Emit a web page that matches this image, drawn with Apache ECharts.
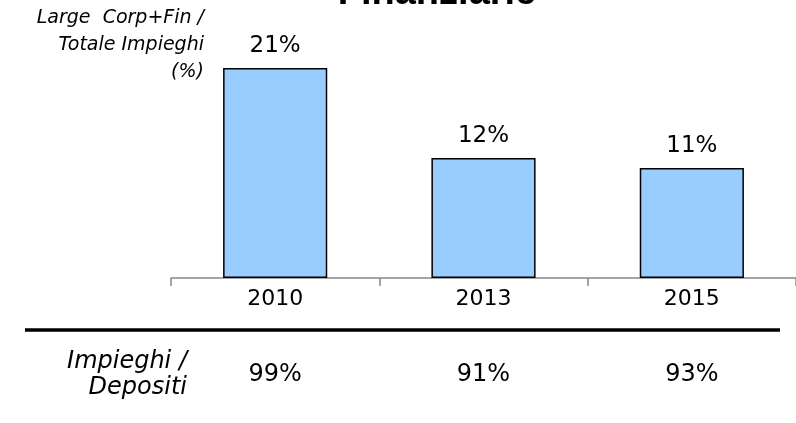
<!DOCTYPE html>
<html><head><meta charset="utf-8">
<script src="https://cdn.jsdelivr.net/npm/echarts@6/dist/echarts.min.js"></script>
<style>html,body{margin:0;padding:0;background:#fff}#c{width:796px;height:423px}</style>
</head><body><div id="c"></div>
<script>
const categories = ['2010', '2013', '2015'];
const largeCorpShare = [21, 12, 11];
const loansToDeposits = [99, 91, 93];
const titleText = 'Finanziarie';
const yAxisTitle = 'Large  Corp+Fin /\nTotale Impieghi\n(%)';
const rowTitle = 'Impieghi /\nDepositi';

const chart = echarts.init(document.getElementById('c'));
const font = 'DejaVu Sans, Verdana, sans-serif';
chart.setOption({
  animation: false,
  title: {
    text: titleText, left: 432, textAlign: 'center', top: -30,
    textStyle: { fontFamily: 'Liberation Sans, Arial', fontWeight: 'bold', fontSize: 38, color: '#000' }
  },
  grid: [
    { left: 171, right: 0, top: 28, height: 250 },
    { left: 171, right: 0, top: 345, height: 60 }
  ],
  xAxis: [
    {
      type: 'category', data: categories, gridIndex: 0,
      axisLine: { lineStyle: { color: '#888', width: 1.5 } },
      axisTick: { show: true, length: 8, lineStyle: { color: '#888', width: 1.5 } },
      axisLabel: { margin: 10, fontSize: 22, fontFamily: font, color: '#000' }
    },
    { type: 'category', data: categories, gridIndex: 1, show: false }
  ],
  yAxis: [
    { type: 'value', min: 0, max: 25, show: false, gridIndex: 0 },
    { type: 'value', min: 0, max: 1, show: false, gridIndex: 1 }
  ],
  series: [
    {
      type: 'bar', data: largeCorpShare, barWidth: '50%',
      xAxisIndex: 0, yAxisIndex: 0,
      itemStyle: { color: '#99CCFF', borderColor: '#000', borderWidth: 1.5 },
      label: { show: true, position: 'top', distance: 10, formatter: p => p.value + '%',
        fontSize: 23, fontFamily: font, color: '#000' }
    },
    {
      type: 'scatter', xAxisIndex: 1, yAxisIndex: 1, symbolSize: 0,
      itemStyle: { opacity: 1 },
      data: loansToDeposits.map(v => ({ value: 0.5, raw: v })),
      label: { show: true, position: 'inside', formatter: p => p.data.raw + '%',
        fontSize: 24, fontFamily: font, color: '#000' }
    }
  ],
  graphic: [
    { type: 'line', shape: { x1: 25, y1: 330, x2: 780, y2: 330 }, style: { stroke: '#000', lineWidth: 3.5 } },
    { type: 'text', x: 187, y: 375, style: { text: rowTitle, align: 'right', verticalAlign: 'middle',
        font: 'italic 24px ' + font, fill: '#000', lineHeight: 26 } },
    { type: 'text', x: 204, y: 45, style: { text: yAxisTitle, align: 'right', verticalAlign: 'middle',
        font: 'italic 19px ' + font, fill: '#000', lineHeight: 27 } }
  ]
});
</script></body></html>
